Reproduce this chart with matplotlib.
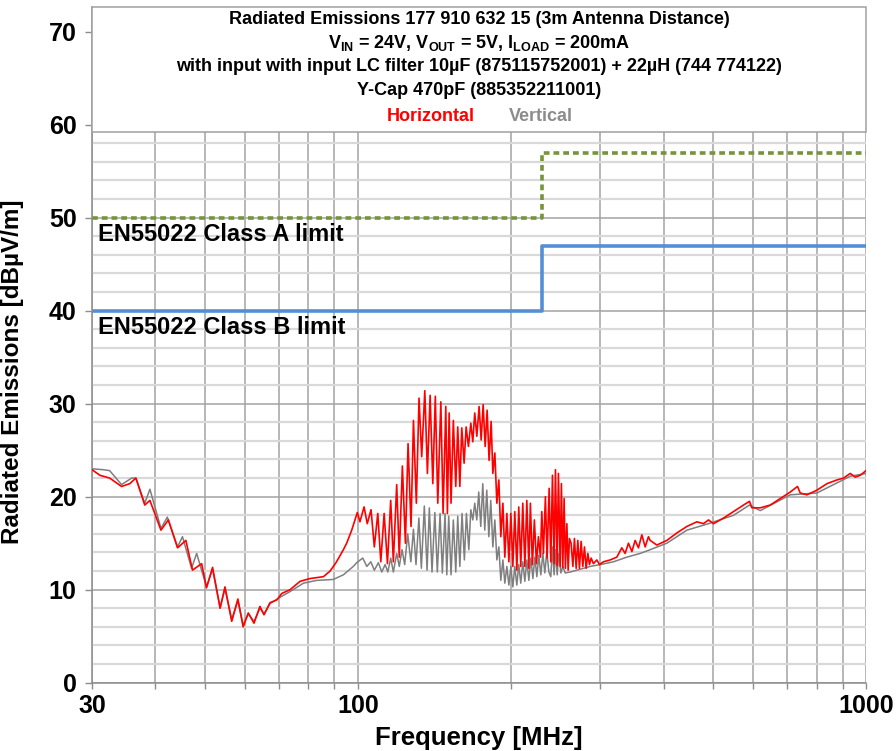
import matplotlib
matplotlib.use("Agg")
import matplotlib.pyplot as plt
import matplotlib.transforms as mtransforms
from matplotlib.patches import Rectangle
from matplotlib.ticker import NullFormatter, FixedLocator

plt.rcParams['font.family'] = ['Liberation Sans', 'DejaVu Sans']
plt.rcParams['mathtext.fontset'] = 'custom'
plt.rcParams['mathtext.rm'] = 'Liberation Sans:bold'
plt.rcParams['mathtext.bf'] = 'Liberation Sans:bold'
plt.rcParams['mathtext.it'] = 'Liberation Sans:bold'

# ---------------- data ----------------
horiz_freq = [30.0, 31.1, 32.5, 34.3, 35.6, 36.6, 38.1, 39.0, 41.0, 42.4, 44.2, 45.9, 47.3, 49.3,
              50.4, 51.8, 53.6, 54.8, 56.5, 58.1, 59.5, 60.9, 62.5, 64.2, 65.4, 67.2, 69.3, 70.9,
              73.6, 77.0, 80.6, 85.6, 88.2, 90.6, 93.7, 95.1, 97.3, 99.8, 101.0, 102.9, 104.4,
              106.2, 107.8, 109.5, 111.0, 112.7, 114.4, 116.1, 117.5, 119.3, 120.7, 122.4, 124.1,
              125.6, 127.3, 128.7, 130.4, 132.0, 133.6, 135.5, 137.1, 138.8, 140.5, 142.1, 143.7,
              145.7, 147.2, 149.0, 150.1, 151.3, 152.6, 154.2, 155.9, 157.3, 158.8, 160.2, 161.9,
              163.4, 165.1, 166.9, 168.4, 169.9, 171.5, 173.3, 174.9, 176.5, 178.1, 179.7, 181.3,
              183.0, 184.4, 186.1, 187.8, 189.5, 191.2, 193.0, 194.7, 196.5, 198.3, 200.1, 201.9,
              203.7, 205.6, 207.4, 209.3, 211.2, 213.2, 215.1, 217.1, 218.6, 220.6, 222.6, 224.7,
              226.7, 228.8, 230.2, 231.9, 234.0, 235.8, 238.0, 239.8, 241.6, 243.4, 244.9, 246.8,
              248.2, 250.2, 251.6, 253.2, 254.7, 256.2, 257.9, 259.4, 260.9, 262.9, 265.0, 266.9,
              269.0, 271.0, 273.0, 275.1, 277.2, 279.3, 281.4, 283.6, 285.7, 287.9, 290.9, 295.4,
              298.9, 304.4, 313.8, 323.4, 330.8, 335.8, 340.9, 346.2, 351.4, 356.7, 362.2, 367.7,
              373.2, 376.1, 387.7, 405.7, 424.5, 444.2, 464.8, 478.9, 489.9, 501.1, 524.4, 548.7,
              574.1, 589.9, 596.4, 619.3, 648.0, 678.0, 709.5, 733.2, 742.3, 765.2, 800.7, 837.8,
              876.7, 903.2, 931.1, 952.4, 974.3, 1000.0]
horiz_db = [22.9, 22.3, 22.0, 21.1, 21.4, 22.0, 19.1, 19.6, 16.4, 17.5, 14.5, 15.3, 12.1, 12.8,
            10.2, 12.4, 8.0, 10.3, 6.6, 9.0, 6.0, 7.5, 6.4, 8.2, 7.3, 8.6, 8.9, 9.6,
            10.0, 10.9, 11.2, 11.4, 12.0, 12.9, 14.3, 15.0, 16.4, 18.3, 17.3, 18.9, 17.1,
            18.6, 14.6, 18.2, 13.0, 18.2, 12.8, 19.6, 13.0, 21.3, 13.5, 23.3, 15.0,
            25.7, 16.8, 28.2, 19.3, 30.6, 24.3, 31.4, 22.5, 30.9, 21.4, 30.8, 19.3,
            30.2, 18.2, 29.7, 18.2, 29.0, 19.3, 28.2, 21.1, 27.5, 21.1, 27.4, 23.6,
            27.5, 25.4, 27.9, 25.9, 29.0, 26.5, 29.7, 26.1, 29.9, 25.4, 29.3, 23.9,
            28.1, 22.5, 24.7, 19.3, 21.8, 15.7, 19.3, 13.5, 18.2, 13.0, 18.2, 12.5,
            18.4, 12.1, 18.9, 12.5, 19.3, 12.5, 19.6, 12.3, 19.3, 12.7, 17.5, 12.8,
            15.7, 13.5, 18.4, 13.9, 20.0, 13.4, 20.9, 13.0, 22.3, 12.8, 22.9, 12.6,
            22.5, 12.5, 21.4, 12.4, 19.8, 12.3, 17.1, 12.1, 15.5, 15.0, 12.5, 15.5,
            12.3, 15.3, 12.3, 15.2, 12.5, 14.6, 12.3, 13.9, 12.7, 13.4, 12.8, 13.2,
            12.7, 13.0, 13.2, 13.5, 14.5, 13.9, 15.0, 14.1, 15.3, 14.5, 15.9, 14.6,
            15.7, 15.3, 14.8, 15.3, 16.1, 16.8, 17.3, 17.1, 17.5, 17.1, 17.7, 18.4,
            19.1, 19.5, 18.8, 18.8, 19.1, 19.8, 20.5, 21.1, 20.4, 20.2, 20.7, 21.4,
            21.8, 22.0, 22.5, 22.1, 22.3, 22.8]

vert_freq = [30.0, 31.6, 32.5, 34.3, 35.9, 36.6, 38.1, 39.0, 41.0, 42.2, 44.2, 45.2, 47.1, 48.2,
             50.4, 51.8, 53.6, 54.8, 56.5, 58.1, 59.5, 60.9, 62.5, 64.2, 65.4, 67.2, 70.9, 73.6,
             78.2, 83.0, 89.5, 93.7, 98.0, 99.5, 102.3, 104.2, 106.1, 107.8, 109.8, 111.5, 113.2,
             114.6, 116.1, 117.5, 119.3, 120.7, 122.2, 123.7, 125.4, 127.2, 128.7, 130.2, 131.9,
             133.4, 135.2, 136.9, 138.3, 140.0, 141.8, 143.4, 145.2, 146.7, 148.5, 149.7, 151.0,
             152.6, 154.2, 155.9, 157.3, 158.8, 160.4, 162.1, 163.6, 165.4, 166.9, 168.4, 169.9,
             171.5, 173.0, 174.6, 176.2, 177.8, 179.4, 181.1, 182.7, 184.4, 186.1, 187.8, 189.5,
             191.2, 193.0, 194.7, 196.5, 198.3, 200.1, 201.9, 203.7, 205.6, 207.4, 209.3, 211.2,
             213.2, 215.1, 217.1, 219.1, 221.1, 223.1, 225.1, 227.1, 229.2, 231.3, 233.4, 235.5,
             237.7, 239.8, 241.6, 243.4, 244.9, 246.8, 248.7, 251.0, 253.2, 255.9, 261.7, 269.8,
             278.0, 286.6, 299.9, 318.5, 338.4, 359.5, 376.1, 405.7, 444.2, 489.9, 548.7, 589.9,
             619.3, 709.5, 800.7, 931.1, 1000.0]
vert_db = [23.0, 22.9, 22.8, 21.3, 22.0, 22.0, 19.3, 20.8, 16.6, 17.8, 14.6, 15.7, 12.3, 13.9,
           10.3, 12.2, 8.1, 10.1, 6.8, 8.8, 6.2, 7.4, 6.6, 8.0, 7.4, 8.5, 9.3, 9.8,
           10.7, 11.0, 11.1, 11.6, 12.5, 12.9, 13.4, 12.5, 13.0, 12.1, 12.9, 11.9, 12.7,
           11.9, 13.4, 11.9, 13.9, 12.5, 14.3, 12.7, 16.0, 13.0, 16.5, 12.7, 17.7,
           12.3, 19.0, 12.1, 18.8, 11.9, 18.3, 11.9, 18.2, 11.8, 18.2, 11.6, 17.9,
           11.6, 17.5, 11.9, 17.9, 12.5, 18.2, 13.2, 18.2, 14.3, 18.6, 17.5, 19.3,
           17.5, 20.5, 16.8, 21.4, 16.4, 20.7, 15.7, 19.6, 14.6, 17.5, 13.2, 14.6,
           11.0, 13.2, 10.7, 12.5, 10.5, 12.5, 10.3, 12.5, 10.5, 12.7, 10.7, 13.0,
           10.9, 13.2, 11.0, 13.4, 11.2, 13.5, 11.4, 13.7, 11.6, 13.9, 11.8, 14.1,
           11.9, 11.4, 14.6, 11.6, 14.3, 11.6, 13.9, 11.8, 12.5, 11.8, 11.9, 12.1,
           12.3, 12.5, 12.7, 13.0, 13.5, 13.9, 14.3, 15.0, 16.4, 17.1, 18.0, 19.1,
           18.5, 20.2, 20.4, 22.2, 22.5]

limit_freq = [30, 230, 230, 1000]
class_a_limit = [50, 50, 57, 57]
class_b_limit = [40, 40, 47, 47]

y_ticks = [0, 10, 20, 30, 40, 50, 60, 70]
x_major = [30, 100, 1000]
x_major_labels = ['30', '100', '1000']
x_minor = [40, 50, 60, 70, 80, 90, 200, 300, 400, 500, 600, 700, 800, 900]

title_lines = ["Radiated Emissions 177 910 632 15 (3m Antenna Distance)",
               r"V$_{\mathrm{IN}}$ = 24V, V$_{\mathrm{OUT}}$ = 5V, I$_{\mathrm{LOAD}}$ = 200mA",
               "with input with input LC filter 10µF (875115752001) + 22µH (744 774122)",
               "Y-Cap 470pF (885352211001)"]

# ---------------- figure ----------------
W, H = 896, 751
fig = plt.figure(figsize=(W / 100, H / 100), dpi=100)
ax_left, ax_right, ax_bottom_px, ax_top_px = 92, 866, 682.7, 7
ax = fig.add_axes([ax_left / W, (H - ax_bottom_px) / H,
                   (ax_right - ax_left) / W, (ax_bottom_px - ax_top_px) / H])
ymax = 72.65
ax.set_xscale('log')
ax.set_xlim(30, 1000)
ax.set_ylim(0, ymax)

ax.xaxis.set_major_locator(FixedLocator(x_major))
ax.xaxis.set_minor_locator(FixedLocator(x_minor))
ax.set_xticklabels(x_major_labels)
ax.xaxis.set_minor_formatter(NullFormatter())
ax.set_yticks(y_ticks)
ax.set_yticks([v for v in range(2, 72, 2) if v % 10], minor=True)

ax.grid(which='major', axis='both', color='#a3a3a3', lw=1.1, zorder=0)
ax.grid(which='minor', axis='x', color='#a3a3a3', lw=1.1, zorder=0)
ax.grid(which='minor', axis='y', color='#d9d9d9', lw=1.6, zorder=0)
ax.set_axisbelow(True)

for s in ['top', 'right']:
    ax.spines[s].set_visible(False)
for s in ['left', 'bottom']:
    ax.spines[s].set_color('#8c8c8c')
    ax.spines[s].set_linewidth(1.1)

ax.tick_params(axis='y', which='major', direction='out', length=5, width=1,
               color='#8c8c8c', pad=6, labelsize=18)
ax.tick_params(axis='y', which='minor', length=0)
ax.tick_params(axis='x', which='both', direction='out', length=4, width=1,
               color='#8c8c8c', pad=4, labelsize=18)
for lab in ax.get_xticklabels() + ax.get_yticklabels():
    lab.set_fontweight('bold')

ax.set_xlabel('Frequency [MHz]', fontsize=18.5, fontweight='bold', labelpad=6)
ax.set_ylabel('Radiated Emissions [dBµV/m]', fontsize=17.5, fontweight='bold')
ax.yaxis.set_label_coords(-0.088, 0.46)

# limit lines
ax.plot(limit_freq, class_a_limit, color='#77933C', lw=2.6, linestyle=(0, (1.6, 1.1)), zorder=2)
ax.plot(limit_freq, class_b_limit, color='#558ED5', lw=2.6, zorder=2)
ax.text(30.8, 49.45, 'EN55022 Class A limit', fontsize=17, fontweight='bold',
        ha='left', va='top', zorder=4)
ax.text(30.8, 39.45, 'EN55022 Class B limit', fontsize=17, fontweight='bold',
        ha='left', va='top', zorder=4)

# measurements
ax.plot(vert_freq, vert_db, color='#7f7f7f', lw=1.1, zorder=2.5)
ax.plot(horiz_freq, horiz_db, color='#ff0000', lw=1.2, zorder=2.6)

# title box
box_bottom = 59.2
ax.add_patch(Rectangle((0, box_bottom / ymax), 1, 1 - box_bottom / ymax,
                       transform=ax.transAxes, facecolor='white', edgecolor='#a0a0a0',
                       lw=1.1, zorder=3, clip_on=False))
tr = mtransforms.blended_transform_factory(ax.transAxes, ax.transData)
line_y = [71.35, 68.8, 66.25, 63.65]
for txt, yy in zip(title_lines, line_y):
    ax.text(0.5, yy, txt, transform=tr, ha='center', va='center', fontsize=13,
            fontweight='bold', zorder=4)
ax.text(0.438, 60.9, 'Horizontal', transform=tr, ha='center', va='center', fontsize=13,
        fontweight='bold', color='#ff0000', zorder=4)
ax.text(0.580, 60.9, 'Vertical', transform=tr, ha='center', va='center', fontsize=13,
        fontweight='bold', color='#8c8c8c', zorder=4)

fig.savefig('out.png', dpi=100)
